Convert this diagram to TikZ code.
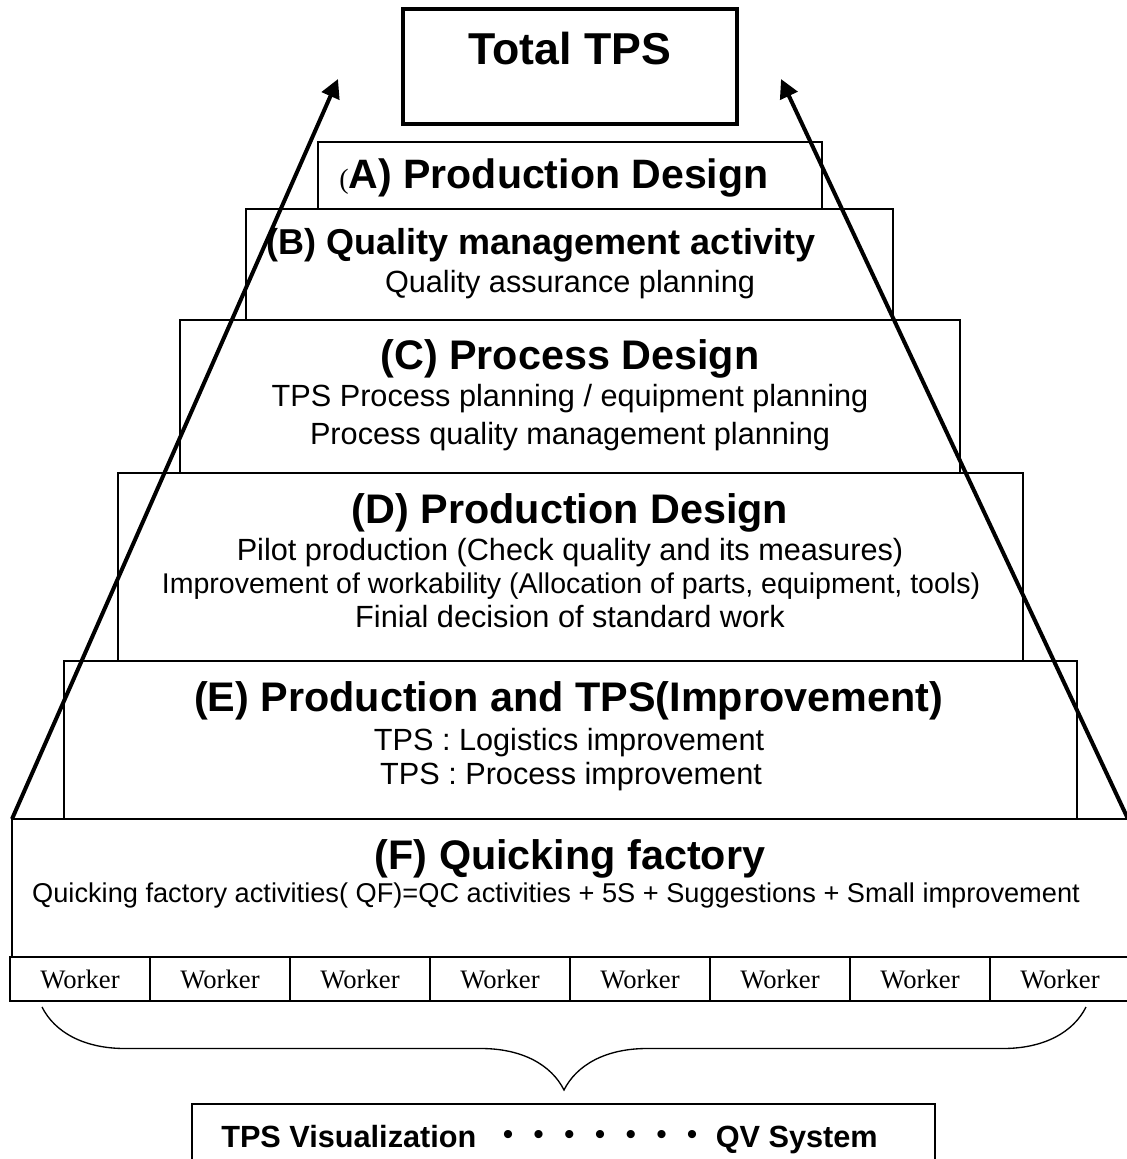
\documentclass[tikz,border=0pt]{standalone}
\usepackage{fontspec}
\setmainfont{Liberation Sans}
\newfontfamily\timesfont{Liberation Serif}
\usetikzlibrary{arrows.meta,decorations.pathreplacing}

\newlength{\du}
\setlength{\du}{7.5pt}

\tikzset{
  tier/.style={draw, line width=1.1pt, inner sep=0pt, outer sep=0pt},
  headline/.style={anchor=base, inner sep=0pt, font=\bfseries\fontsize{31}{36}\selectfont},
  bodyline/.style={anchor=base, inner sep=0pt, font=\fontsize{23}{28}\selectfont},
  cell/.style={tier, line width=1.3pt, minimum width=14\du, minimum height=4.4\du,
    font=\timesfont\fontsize{20}{24}\selectfont},
  riser/.style={line width=3pt, -{Triangle[length=14pt,width=14pt]}},
}

\begin{document}
\begin{tikzpicture}
\pgftransformxscale{1.000000}
\pgftransformyscale{-1.000000}
\fill[white] (0\du,0\du) rectangle (112.6\du,115.9\du);
\useasboundingbox (0\du,0\du) rectangle (112.6\du,115.9\du);
% goal box
\node[tier, line width=3pt, minimum width=33.4\du, minimum height=11.5\du] (tps) at (57.0\du,6.65\du) {};
\node[anchor=base, inner sep=0pt, font=\bfseries\fontsize{33.5}{40}\selectfont] (tpstext) at (57.0\du,6.5\du) {Total TPS};
% pyramid steps, top to bottom
\node[tier, minimum width=50.4\du, minimum height=6.7\du] (a) at (57.0\du,17.55\du) {};
\node[headline, font=\bfseries\fontsize{30.8}{36}\selectfont] (atitle) at (55.4\du,18.8\du) {{\mdseries\timesfont\fontsize{21}{24}\selectfont(}A) Production Design};
\node[tier, minimum width=64.7\du, minimum height=11.1\du] (b) at (56.95\du,26.45\du) {};
\node[headline, font=\bfseries\fontsize{27}{32}\selectfont] (btitle) at (54.1\du,25.4\du) {(B) Quality management activity};
\node[bodyline] (bline) at (57.0\du,29.2\du) {Quality assurance planning};
\node[tier, minimum width=78.0\du, minimum height=15.3\du] (c) at (57.0\du,39.65\du) {};
\node[headline] (ctitle) at (57.0\du,36.9\du) {(C) Process Design};
\node[bodyline] (cline1) at (57.0\du,40.6\du) {TPS Process planning / equipment planning};
\node[bodyline] (cline2) at (57.0\du,44.4\du) {Process quality management planning};
\node[tier, minimum width=90.5\du, minimum height=18.8\du] (d) at (57.05\du,56.7\du) {};
\node[headline] (dtitle) at (57.0\du,52.3\du) {(D) Production Design};
\node[bodyline] (dline1) at (57.0\du,56.0\du) {Pilot production (Check quality and its measures)};
\node[bodyline, font=\fontsize{21.4}{26}\selectfont] (dline2) at (57.1\du,59.3\du) {Improvement of workability (Allocation of parts, equipment, tools)};
\node[bodyline] (dline3) at (57.0\du,62.7\du) {Finial decision of standard work};
\node[tier, minimum width=101.3\du, minimum height=15.8\du] (e) at (57.05\du,74.0\du) {};
\node[headline] (etitle) at (56.85\du,71.1\du) {(E) Production and TPS(Improvement)};
\node[bodyline] (eline1) at (56.9\du,75.0\du) {TPS : Logistics improvement};
\node[bodyline] (eline2) at (57.1\du,78.4\du) {TPS : Process improvement};
\node[tier, minimum width=111.6\du, minimum height=13.8\du] (f) at (57.0\du,88.8\du) {};
\node[headline] (ftitle) at (57.0\du,86.9\du) {(F) Quicking factory};
\node[bodyline, font=\fontsize{20.4}{25}\selectfont] (fline) at (55.6\du,90.2\du) {Quicking factory activities( QF)=QC activities + 5S + Suggestions + Small improvement};
% workers
\foreach \i in {1,...,8}
  \node[cell] (w\i) at (14\du*\i-6\du,97.9\du) {Worker};
% arrows up to the goal
\coordinate (tipL) at (33.8\du,7.9\du);
\coordinate (tipR) at (78.1\du,7.9\du);
\draw[riser] (f.north west) -- (tipL);
\draw[riser] (f.north east) -- (tipR);
% brace and result
\coordinate (braceL) at (4.2\du,100.7\du);
\coordinate (braceR) at (108.6\du,100.7\du);
\draw[line width=1pt, decorate, decoration={brace, mirror, amplitude=8.3\du}] (braceL) -- (braceR);
\node[tier, line width=1.5pt, minimum width=74.3\du, minimum height=8.0\du] (vis) at (56.35\du,114.4\du) {};
\node[anchor=base west, inner sep=0pt, font=\bfseries\fontsize{23}{28}\selectfont] (vistext) at (22.1\du,114.7\du) {TPS Visualization};
\node[anchor=base east, inner sep=0pt, font=\bfseries\fontsize{23}{28}\selectfont] (qv) at (87.8\du,114.7\du) {QV System};
\foreach \i in {0,...,6}
  \node[anchor=base, inner sep=0pt, font=\fontsize{22.5}{24}\selectfont] (dot\i) at (50.8\du+3.07\du*\i,114.4\du) {•};
\end{tikzpicture}
\end{document}
